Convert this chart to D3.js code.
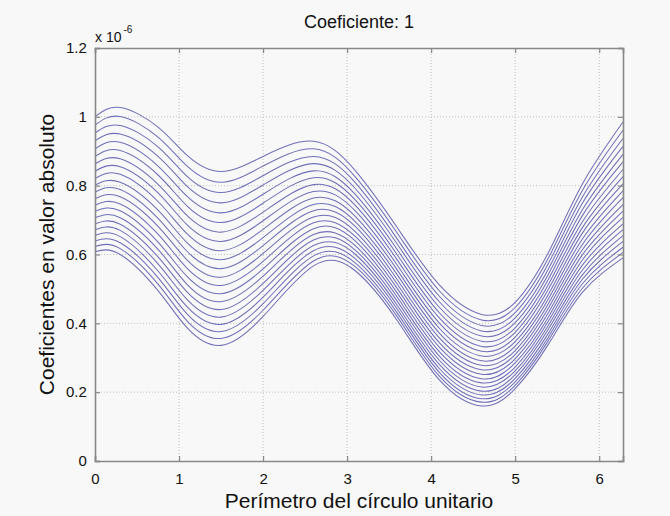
<!DOCTYPE html>
<html>
<head>
<meta charset="utf-8">
<script src="https://cdn.jsdelivr.net/npm/d3@7"></script>
<style>
  html, body { margin: 0; padding: 0; background: #f8f8f8; }
  svg { display: block; }
  text { font-family: "Liberation Sans", Arial, Helvetica, sans-serif; fill: #111; }
</style>
</head>
<body>
<svg id="chart" width="670" height="516"></svg>
<script>
// ---- data (values × 1e-6) ----
const titleText = "Coeficiente: 1";
const xLabelText = "Perímetro del círculo unitario";
const yLabelText = "Coeficientes en valor absoluto";
const xKeys = [0, 0.3, 0.75, 1.1, 1.5, 2.0, 2.6, 3.1, 3.6, 4.1, 4.6, 5.0, 5.4, 5.8, 6.283];
const xTicks = [0, 1, 2, 3, 4, 5, 6];
const xTickLabels = ["0", "1", "2", "3", "4", "5", "6"];
const yTicks = [0, 0.2, 0.4, 0.6, 0.8, 1.0, 1.2];
const yTickLabels = ["0", "0.2", "0.4", "0.6", "0.8", "1", "1.2"];

const curve01 = [1.000, 1.027, 0.970, 0.887, 0.841, 0.885, 0.929, 0.843, 0.677, 0.511, 0.426, 0.461, 0.608, 0.805, 0.985];
const curve02 = [0.976, 1.001, 0.941, 0.856, 0.810, 0.857, 0.907, 0.825, 0.661, 0.494, 0.410, 0.446, 0.592, 0.786, 0.961];
const curve03 = [0.953, 0.975, 0.913, 0.826, 0.780, 0.829, 0.885, 0.808, 0.644, 0.478, 0.394, 0.431, 0.576, 0.767, 0.937];
const curve04 = [0.930, 0.950, 0.885, 0.797, 0.750, 0.802, 0.864, 0.791, 0.629, 0.462, 0.378, 0.416, 0.560, 0.749, 0.914];
const curve05 = [0.907, 0.926, 0.857, 0.768, 0.721, 0.775, 0.843, 0.774, 0.613, 0.446, 0.363, 0.402, 0.545, 0.730, 0.891];
const curve06 = [0.885, 0.902, 0.831, 0.740, 0.693, 0.749, 0.823, 0.758, 0.598, 0.430, 0.348, 0.387, 0.530, 0.713, 0.869];
const curve07 = [0.863, 0.878, 0.804, 0.712, 0.665, 0.723, 0.803, 0.742, 0.583, 0.415, 0.333, 0.374, 0.515, 0.695, 0.847];
const curve08 = [0.842, 0.855, 0.779, 0.685, 0.638, 0.698, 0.783, 0.726, 0.568, 0.400, 0.319, 0.360, 0.501, 0.678, 0.826];
const curve09 = [0.821, 0.833, 0.754, 0.659, 0.611, 0.673, 0.764, 0.710, 0.554, 0.385, 0.305, 0.347, 0.486, 0.662, 0.805];
const curve10 = [0.801, 0.810, 0.729, 0.633, 0.585, 0.649, 0.745, 0.695, 0.540, 0.371, 0.291, 0.334, 0.473, 0.645, 0.785];
const curve11 = [0.781, 0.789, 0.705, 0.608, 0.559, 0.626, 0.727, 0.681, 0.526, 0.357, 0.278, 0.321, 0.459, 0.629, 0.765];
const curve12 = [0.762, 0.768, 0.682, 0.583, 0.534, 0.603, 0.709, 0.666, 0.513, 0.343, 0.265, 0.309, 0.446, 0.614, 0.745];
const curve13 = [0.743, 0.747, 0.659, 0.559, 0.510, 0.580, 0.692, 0.652, 0.500, 0.330, 0.252, 0.297, 0.433, 0.599, 0.726];
const curve14 = [0.725, 0.727, 0.636, 0.535, 0.486, 0.558, 0.675, 0.639, 0.487, 0.317, 0.239, 0.285, 0.420, 0.584, 0.708];
const curve15 = [0.707, 0.707, 0.615, 0.512, 0.463, 0.537, 0.658, 0.625, 0.475, 0.304, 0.227, 0.273, 0.408, 0.569, 0.689];
const curve16 = [0.689, 0.688, 0.593, 0.490, 0.440, 0.516, 0.642, 0.612, 0.463, 0.292, 0.215, 0.262, 0.396, 0.555, 0.672];
const curve17 = [0.672, 0.670, 0.573, 0.468, 0.418, 0.496, 0.626, 0.600, 0.451, 0.280, 0.203, 0.251, 0.385, 0.541, 0.655];
const curve18 = [0.655, 0.652, 0.552, 0.447, 0.397, 0.476, 0.611, 0.587, 0.440, 0.268, 0.192, 0.240, 0.373, 0.528, 0.638];
const curve19 = [0.639, 0.634, 0.533, 0.426, 0.376, 0.457, 0.596, 0.575, 0.429, 0.257, 0.181, 0.230, 0.362, 0.515, 0.621];
const curve20 = [0.623, 0.617, 0.514, 0.406, 0.356, 0.438, 0.581, 0.564, 0.418, 0.246, 0.171, 0.220, 0.352, 0.502, 0.606];
const curve21 = [0.608, 0.600, 0.495, 0.386, 0.336, 0.420, 0.567, 0.552, 0.407, 0.235, 0.160, 0.210, 0.341, 0.490, 0.590];

const curves = [curve01, curve02, curve03, curve04, curve05, curve06, curve07,
  curve08, curve09, curve10, curve11, curve12, curve13, curve14, curve15,
  curve16, curve17, curve18, curve19, curve20, curve21];

// ---- layout ----
const svg = d3.select("#chart");
const W = 670, H = 516;
const plot = { left: 95, right: 623, top: 48, bottom: 461 };

svg.append("rect").attr("width", W).attr("height", H).attr("fill", "#f8f8f8");

const x = d3.scaleLinear().domain([0, 2 * Math.PI]).range([plot.left, plot.right]);
const y = d3.scaleLinear().domain([0, 1.2]).range([plot.bottom, plot.top]);

// grid
const grid = svg.append("g").attr("stroke", "#b4b4b4").attr("stroke-width", 0.8)
  .attr("stroke-dasharray", "1,2");
grid.selectAll("line.vx").data(xTicks.filter(d => d > 0)).join("line")
  .attr("x1", d => x(d)).attr("x2", d => x(d))
  .attr("y1", plot.top).attr("y2", plot.bottom);
grid.selectAll("line.hy").data(yTicks.filter(d => d > 0 && d < 1.2)).join("line")
  .attr("y1", d => y(d)).attr("y2", d => y(d))
  .attr("x1", plot.left).attr("x2", plot.right);

// curves
const line = d3.line()
  .x((d, i) => x(xKeys[i]))
  .y(d => y(d))
  .curve(d3.curveNatural);

svg.append("g")
  .selectAll("path").data(curves).join("path")
  .attr("d", line)
  .attr("fill", "none")
  .attr("stroke", "#7070b8")
  .attr("stroke-width", 1.05);

// axes (bottom / left with labels, top / right plain) with inward ticks
const tickLen = 5;
const axB = svg.append("g").attr("transform", `translate(0,${plot.bottom})`)
  .call(d3.axisBottom(x).tickValues(xTicks).tickSize(-tickLen).tickPadding(12)
    .tickFormat((d, i) => xTickLabels[i]));
const axT = svg.append("g").attr("transform", `translate(0,${plot.top})`)
  .call(d3.axisTop(x).tickValues(xTicks).tickSize(-tickLen).tickFormat(""));
const axL = svg.append("g").attr("transform", `translate(${plot.left},0)`)
  .call(d3.axisLeft(y).tickValues(yTicks).tickSize(-tickLen).tickPadding(12)
    .tickFormat((d, i) => yTickLabels[i]));
const axR = svg.append("g").attr("transform", `translate(${plot.right},0)`)
  .call(d3.axisRight(y).tickValues(yTicks).tickSize(-tickLen).tickFormat(""));

[axB, axT, axL, axR].forEach(g => {
  g.select(".domain").attr("stroke", "#888").attr("stroke-width", 1.6);
  g.selectAll(".tick line").attr("stroke", "#888").attr("stroke-width", 1.2);
  g.selectAll(".tick text").attr("font-size", 15).attr("fill", "#111")
    .attr("font-family", "'Liberation Sans', Arial, sans-serif");
});
axL.selectAll(".tick text").attr("dx", "0.25em");

// exponent label
const expo = svg.append("text").attr("x", plot.left).attr("y", 42).attr("font-size", 14);
expo.append("tspan").text("x 10");
expo.append("tspan").attr("font-size", 10).attr("dy", -9).attr("dx", 2).text("-6");

// title
svg.append("text").attr("x", (plot.left + plot.right) / 2).attr("y", 28)
  .attr("text-anchor", "middle").attr("font-size", 18).text(titleText);

// axis labels
svg.append("text").attr("x", (plot.left + plot.right) / 2).attr("y", 508)
  .attr("text-anchor", "middle").attr("font-size", 21).text(xLabelText);

svg.append("text")
  .attr("transform", `translate(54,${(plot.top + plot.bottom) / 2}) rotate(-90)`)
  .attr("text-anchor", "middle").attr("font-size", 21).text(yLabelText);
</script>
</body>
</html>
